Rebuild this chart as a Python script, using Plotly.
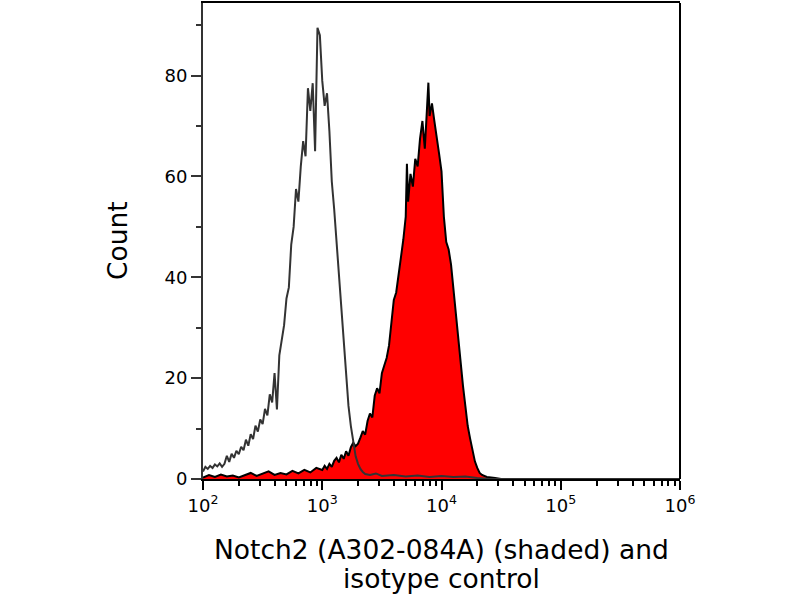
import plotly.graph_objects as go

# --- data (x given as log10 of fluorescence) ---
shaded_log_x = [
    2.00, 2.05, 2.10, 2.15, 2.20, 2.25, 2.30, 2.35, 2.40, 2.45, 2.50, 2.55, 2.60, 2.65,
    2.70, 2.75, 2.80, 2.85, 2.90, 2.95, 3.00, 3.02, 3.04, 3.06, 3.08, 3.10, 3.12, 3.14,
    3.16, 3.18, 3.20, 3.22, 3.24, 3.26, 3.28, 3.30, 3.32, 3.34, 3.36, 3.38, 3.40, 3.42,
    3.44, 3.46, 3.48, 3.50, 3.52, 3.54, 3.56, 3.58, 3.60, 3.62, 3.64, 3.66, 3.68, 3.70,
    3.71, 3.72, 3.74, 3.76, 3.78, 3.80, 3.82, 3.84, 3.86, 3.88, 3.89, 3.90, 3.92, 3.94,
    3.96, 3.98, 4.00, 4.02, 4.04, 4.06, 4.08, 4.10, 4.12, 4.14, 4.16, 4.18, 4.20, 4.22,
    4.24, 4.26, 4.28, 4.30, 4.32, 4.34, 4.38, 4.45, 4.50, 6.00,
]
shaded_count = [
    0.3, 0.8, 0.4, 0.9, 0.5, 0.7, 0.3, 0.8, 1.2, 0.6, 1.0, 1.5, 0.8, 1.2,
    0.9, 1.6, 1.1, 1.8, 1.3, 2.2, 1.8, 2.6, 2.0, 3.0, 2.4, 3.6, 4.2, 3.3,
    4.8, 4.0, 5.5, 4.6, 6.3, 7.2, 6.5, 7.0, 8.2, 9.5, 8.8, 11.5, 13.0, 12.2,
    16.5, 18.0, 17.0, 21.0, 22.5, 24.0, 26.5, 31.0, 35.5, 37.0, 41.0, 44.0, 47.5, 52.0,
    62.5, 55.0, 60.5, 58.0, 63.5, 62.0, 67.5, 71.0, 65.5, 76.0, 78.6, 72.0, 74.5, 71.0,
    68.0, 64.5, 61.0, 52.0, 47.0, 45.5, 42.5, 37.5, 32.0, 27.0, 22.5, 18.5, 14.5, 10.5,
    8.0, 5.5, 3.5, 2.2, 1.2, 0.8, 0.4, 0.2, 0.0, 0.0,
]

isotype_log_x = [
    2.00, 2.02, 2.04, 2.06, 2.08, 2.10, 2.12, 2.14, 2.16, 2.18, 2.20, 2.22, 2.24, 2.26,
    2.28, 2.30, 2.32, 2.34, 2.36, 2.38, 2.40, 2.42, 2.44, 2.46, 2.48, 2.50, 2.52, 2.54,
    2.56, 2.58, 2.60, 2.62, 2.64, 2.66, 2.68, 2.70, 2.72, 2.74, 2.76, 2.78, 2.80, 2.82,
    2.84, 2.86, 2.88, 2.90, 2.92, 2.94, 2.96, 2.98, 3.00, 3.02, 3.04, 3.06, 3.08, 3.10,
    3.12, 3.14, 3.16, 3.18, 3.20, 3.22, 3.24, 3.26, 3.28, 3.30, 3.32, 3.34, 3.36, 3.40,
    3.45, 3.50, 3.60, 3.70, 3.80, 3.90, 4.00, 4.10, 4.20, 4.30, 4.40, 6.00,
]
isotype_count = [
    1.5, 2.4, 2.0, 2.6, 2.2, 2.9, 2.5, 3.1, 2.4, 3.0, 4.6, 3.4, 5.0, 4.2,
    5.6, 4.9, 6.4, 5.7, 7.8, 6.6, 8.9, 7.9, 10.6, 9.4, 11.8, 10.9, 13.9, 12.6,
    16.8, 15.2, 21.0, 13.8, 24.5, 28.0, 30.5, 35.8, 38.0, 46.5, 50.0, 57.5, 55.0, 62.0,
    67.0, 64.0, 77.5, 73.0, 78.5, 65.0, 89.5, 88.0, 79.0, 74.0, 76.5, 69.0, 59.0, 53.5,
    47.0, 40.0, 33.0, 27.0, 20.0, 14.5, 10.5, 7.0, 4.5, 3.0, 2.0, 1.4, 1.0, 0.8,
    1.1, 0.6, 0.8, 0.5, 0.7, 0.4, 0.6, 0.4, 0.5, 0.2, 0.0, 0.0,
]

x_major = [1e2, 1e3, 1e4, 1e5, 1e6]
x_major_text = ["10<sup>2</sup>", "10<sup>3</sup>", "10<sup>4</sup>",
                "10<sup>5</sup>", "10<sup>6</sup>"]
x_minor = [k * 10 ** n for n in range(2, 6) for k in range(2, 10)]
y_major = [0, 20, 40, 60, 80]
y_minor = [10, 30, 50, 70, 90]

x_title_lines = ["Notch2 (A302-084A) (shaded) and", "isotype control"]
y_title = "Count"

FONT = "DejaVu Sans"
L, R, T, B = 203, 120, 1, 121
PW, PH = 800 - L - R, 600 - T - B

fig = go.Figure()

# Notch2 stained sample, red fill with black outline
fig.add_trace(go.Scatter(
    x=[10 ** v for v in shaded_log_x], y=shaded_count,
    mode="lines", fill="tozeroy", fillcolor="#ff0000",
    line=dict(color="#000000", width=2),
    showlegend=False,
))

# isotype control, open outline on top
fig.add_trace(go.Scatter(
    x=[10 ** v for v in isotype_log_x], y=isotype_count,
    mode="lines",
    line=dict(color="#333333", width=2),
    showlegend=False,
))

fig.update_layout(
    width=800, height=600,
    margin=dict(l=L, r=R, t=T, b=B),
    plot_bgcolor="white", paper_bgcolor="white",
    font=dict(family=FONT, color="black"),
)

fig.update_xaxes(
    type="log", range=[2, 6],
    tickmode="array", tickvals=x_major, ticktext=x_major_text,
    ticks="outside", ticklen=9, tickwidth=2, tickcolor="black",
    tickfont=dict(size=18),
    minor=dict(tickmode="array", tickvals=x_minor, ticks="outside",
               ticklen=5, tickwidth=1.5, tickcolor="black"),
    showline=True, linecolor="black", linewidth=2, mirror=True,
    showgrid=False, zeroline=False,
)

fig.update_yaxes(
    range=[0, 94.4],
    tickmode="array", tickvals=y_major,
    ticks="outside", ticklen=10, tickwidth=1.5, tickcolor="#333333",
    tickfont=dict(size=18),
    minor=dict(tickmode="array", tickvals=y_minor, ticks="outside",
               ticklen=5, tickwidth=1.5, tickcolor="#333333"),
    showline=True, linecolor="#333333", linewidth=2, mirror=False,
    showgrid=False, zeroline=False,
)

# axis titles as annotations so the two x-title lines sit close together
for i, line in enumerate(x_title_lines):
    fig.add_annotation(
        text=line, xref="paper", yref="paper",
        x=(441 - L) / PW, y=-(550 + 29 * i - (T + PH)) / PH,
        xanchor="center", yanchor="middle", showarrow=False,
        font=dict(size=26.5),
    )
fig.add_annotation(
    text=y_title, xref="paper", yref="paper",
    x=(117 - L) / PW, y=(T + PH - 240) / PH,
    xanchor="center", yanchor="middle", showarrow=False,
    textangle=-90, font=dict(size=26.5),
)

# right-hand frame line
fig.add_shape(type="line", xref="paper", yref="paper",
              x0=1, x1=1, y0=0, y1=1,
              line=dict(color="black", width=2))

fig.write_html("out.html", config={"displayModeBar": False},
               post_script="document.body.style.margin='0';")
